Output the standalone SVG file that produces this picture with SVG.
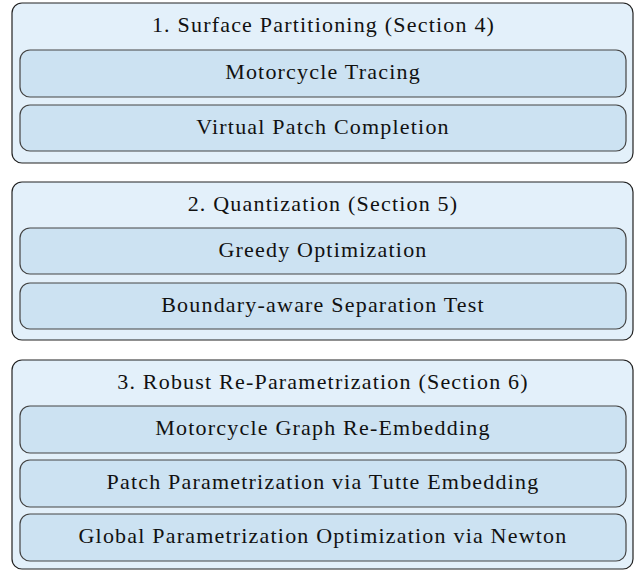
<svg xmlns="http://www.w3.org/2000/svg" width="637" height="571" viewBox="0 0 637 571">
<style>
.outer{fill:#e3f0fa;stroke:#222;stroke-width:1.2}
.inner{fill:#cce2f2;stroke:#444;stroke-width:1.2}
text{font-family:"Liberation Serif","DejaVu Serif",serif;font-size:22px;letter-spacing:1.2px;fill:#111;text-anchor:middle}
</style>
<rect width="637" height="571" fill="#fff"/>
<g id="stage1">
<rect class="outer" x="12" y="3" width="621" height="160" rx="10"/>
<text x="323.5" y="32">1. Surface Partitioning (Section 4)</text>
</g>
<g id="motorcycle-tracing">
<rect class="inner" x="20" y="50" width="606" height="47" rx="10"/>
<text x="323" y="79">Motorcycle Tracing</text>
</g>
<g id="virtual-patch">
<rect class="inner" x="20" y="105" width="606" height="46" rx="10"/>
<text x="323" y="134">Virtual Patch Completion</text>
</g>
<g id="stage2">
<rect class="outer" x="12" y="182" width="621" height="158" rx="10"/>
<text x="323" y="211">2. Quantization (Section 5)</text>
</g>
<g id="greedy">
<rect class="inner" x="20" y="228" width="606" height="46" rx="10"/>
<text x="323" y="257">Greedy Optimization</text>
</g>
<g id="boundary">
<rect class="inner" x="20" y="283" width="606" height="46" rx="10"/>
<text x="323" y="312">Boundary-aware Separation Test</text>
</g>
<g id="stage3">
<rect class="outer" x="12" y="360" width="621" height="209" rx="10"/>
<text x="323" y="389">3. Robust Re-Parametrization (Section 6)</text>
</g>
<g id="reembed">
<rect class="inner" x="20" y="406" width="606" height="47" rx="10"/>
<text x="323" y="435">Motorcycle Graph Re-Embedding</text>
</g>
<g id="tutte">
<rect class="inner" x="20" y="460" width="606" height="47" rx="10"/>
<text x="323" y="489">Patch Parametrization via Tutte Embedding</text>
</g>
<g id="newton">
<rect class="inner" x="20" y="514" width="606" height="47" rx="10"/>
<text x="323" y="543">Global Parametrization Optimization via Newton</text>
</g>
<g id="connectors"/>
</svg>
